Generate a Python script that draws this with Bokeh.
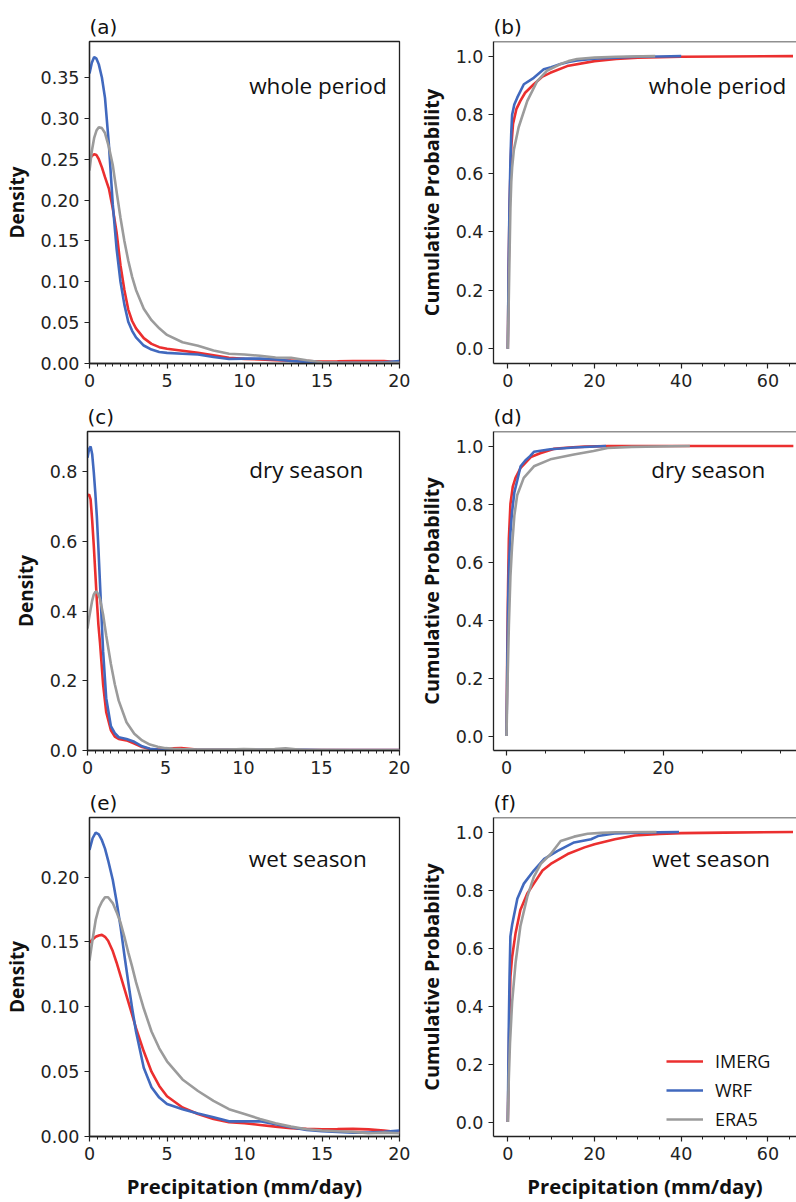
from bokeh.plotting import figure
from bokeh.layouts import column, row
from bokeh.models import (Range1d, FixedTicker, PrintfTickFormatter, Label, Legend,
                          LegendItem, Span)
from bokeh.embed import file_html
from bokeh.resources import INLINE

# ---------------- data ----------------
series_names = ["IMERG", "WRF", "ERA5"]
colors = ["#eb2f2f", "#4169be", "#9b9b9b"]

# (a) whole period KDE
kde_whole_x = [0, 0.15, 0.3, 0.45, 0.6, 0.8, 1.0, 1.25, 1.5, 1.75, 2.0, 2.25, 2.5, 2.75, 3.0,
               3.5, 4, 4.5, 5, 6, 7, 8, 9, 10, 11, 12, 13, 14, 15, 16, 17, 18, 19, 20]
kde_whole_imerg = [0.25, 0.254, 0.256, 0.255, 0.25, 0.24, 0.228, 0.214, 0.19, 0.16, 0.12, 0.09,
                   0.066, 0.052, 0.043, 0.031, 0.024, 0.02, 0.018, 0.0155, 0.013, 0.010, 0.007,
                   0.0057, 0.005, 0.004, 0.0035, 0.003, 0.0025, 0.0027, 0.003, 0.003, 0.003, 0.0016]
kde_whole_wrf = [0.355, 0.368, 0.375, 0.373, 0.366, 0.35, 0.325, 0.268, 0.195, 0.14, 0.1, 0.072,
                 0.051, 0.04, 0.032, 0.022, 0.017, 0.014, 0.013, 0.012, 0.011, 0.008, 0.0055,
                 0.006, 0.006, 0.005, 0.003, 0.002, 0.0012, 0.001, 0.001, 0.001, 0.0015, 0.003]
kde_whole_era5 = [0.236, 0.26, 0.276, 0.285, 0.289, 0.288, 0.282, 0.265, 0.243, 0.21, 0.178, 0.15,
                  0.126, 0.106, 0.09, 0.067, 0.053, 0.043, 0.035, 0.026, 0.0216, 0.016, 0.012,
                  0.011, 0.0094, 0.0073, 0.007, 0.004, 0.0016, 0.0012, 0.001, 0.001, 0.001, 0.001]

# (c) dry season KDE
kde_dry_x = [0, 0.1, 0.2, 0.3, 0.4, 0.5, 0.6, 0.7, 0.8, 1.0, 1.2, 1.5, 1.75, 2.0, 2.5, 3.0, 3.5,
             4, 4.5, 5, 5.5, 6, 6.5, 7, 8, 9, 10, 11, 12, 12.7, 13.5, 14, 15, 17, 20]
kde_dry_imerg = [0.73, 0.735, 0.72, 0.66, 0.59, 0.51, 0.43, 0.36, 0.31, 0.19, 0.11, 0.058, 0.04,
                 0.033, 0.029, 0.02, 0.01, 0.004, 0.003, 0.003, 0.006, 0.007, 0.005, 0.003, 0.002,
                 0.002, 0.001, 0.001, 0.001, 0.001, 0.001, 0.001, 0.001, 0.001, 0.001]
kde_dry_wrf = [0.84, 0.865, 0.872, 0.85, 0.80, 0.74, 0.67, 0.58, 0.48, 0.285, 0.15, 0.07, 0.05,
               0.038, 0.033, 0.025, 0.012, 0.005, 0.003, 0.002, 0.002, 0.002, 0.002, 0.002,
               0.002, 0.002, 0.002, 0.002, 0.002, 0.002, 0.002, 0.002, 0.001, 0.001, 0.001]
kde_dry_era5 = [0.35, 0.38, 0.405, 0.43, 0.447, 0.455, 0.455, 0.447, 0.435, 0.39, 0.33, 0.248,
                0.19, 0.143, 0.081, 0.048, 0.029, 0.017, 0.011, 0.0067, 0.005, 0.004, 0.0035,
                0.003, 0.003, 0.003, 0.004, 0.003, 0.004, 0.006, 0.003, 0.001, 0.001, 0.0005, 0.0005]

# (e) wet season KDE
kde_wet_x = [0, 0.2, 0.4, 0.6, 0.8, 1.0, 1.2, 1.5, 1.75, 2.0, 2.25, 2.5, 2.75, 3.0, 3.5, 4, 4.5,
             5, 6, 7, 8, 9, 10, 11, 12, 13, 14, 15, 16, 17, 18, 19, 20]
kde_wet_imerg = [0.1496, 0.152, 0.154, 0.155, 0.1555, 0.154, 0.151, 0.143, 0.134, 0.124, 0.114,
                 0.104, 0.094, 0.0835, 0.0657, 0.050, 0.039, 0.031, 0.0224, 0.0173, 0.0135, 0.011,
                 0.0102, 0.0089, 0.0076, 0.0064, 0.0059, 0.0056, 0.0057, 0.0059, 0.0055, 0.0046, 0.0033]
kde_wet_wrf = [0.221, 0.230, 0.2344, 0.233, 0.2285, 0.222, 0.213, 0.198, 0.181, 0.162, 0.14,
               0.119, 0.099, 0.081, 0.053, 0.038, 0.030, 0.025, 0.021, 0.0178, 0.0148, 0.0117,
               0.0117, 0.0117, 0.0095, 0.0071, 0.0051, 0.004, 0.0035, 0.003, 0.003, 0.0036, 0.0046]
kde_wet_era5 = [0.1356, 0.152, 0.167, 0.176, 0.181, 0.1845, 0.1845, 0.180, 0.173, 0.165, 0.154,
                0.142, 0.131, 0.119, 0.0987, 0.081, 0.068, 0.058, 0.044, 0.0351, 0.0275, 0.0211,
                0.0173, 0.0135, 0.0102, 0.0076, 0.0056, 0.0046, 0.004, 0.0036, 0.0025, 0.003, 0.0025]

# (b) whole period CDF
cdf_whole_imerg_x = [0, 0.2, 0.4, 0.6, 0.8, 1.2, 2.0, 2.9, 4, 6, 8, 9.8, 13.7, 20, 25, 30, 40, 50, 65.8]
cdf_whole_imerg_y = [0, 0.28, 0.48, 0.6, 0.69, 0.768, 0.82, 0.847, 0.875, 0.904, 0.93, 0.943,
                     0.966, 0.983, 0.99, 0.995, 0.998, 0.999, 1.0]
cdf_whole_wrf_x = [0, 0.2, 0.4, 0.6, 0.8, 1.0, 1.5, 2.2, 3.7, 6, 8.3, 10, 12, 14, 16, 20, 25, 30, 35, 40]
cdf_whole_wrf_y = [0, 0.3, 0.5, 0.64, 0.74, 0.80, 0.835, 0.859, 0.904, 0.926, 0.955, 0.962,
                   0.972, 0.98, 0.985, 0.991, 0.995, 0.998, 0.999, 1.0]
cdf_whole_era5_x = [0, 0.2, 0.4, 0.6, 0.8, 1.0, 1.4, 2.5, 4.5, 6.8, 9, 12, 14, 16, 20, 25, 34]
cdf_whole_era5_y = [0, 0.15, 0.32, 0.48, 0.57, 0.62, 0.68, 0.757, 0.847, 0.915, 0.95, 0.972,
                    0.983, 0.99, 0.995, 0.998, 1.0]

# (d) dry season CDF
cdf_dry_imerg_x = [0, 0.1, 0.2, 0.3, 0.5, 0.8, 1.15, 1.8, 3.1, 4.3, 6, 8, 10, 13, 20, 36.6]
cdf_dry_imerg_y = [0, 0.3, 0.52, 0.68, 0.8, 0.86, 0.89, 0.925, 0.962, 0.975, 0.99, 0.995, 0.998,
                   1.0, 1.0, 1.0]
cdf_dry_wrf_x = [0, 0.1, 0.2, 0.3, 0.5, 0.7, 1.0, 1.36, 1.8, 2.4, 3.0, 3.5, 5.6, 8.6, 12.7]
cdf_dry_wrf_y = [0, 0.25, 0.45, 0.58, 0.70, 0.77, 0.84, 0.88, 0.93, 0.95, 0.965, 0.98, 0.989,
                 0.995, 1.0]
cdf_dry_era5_x = [0, 0.1, 0.3, 0.5, 0.7, 1.0, 1.36, 2.2, 3.5, 5.6, 8.6, 11.1, 12.9, 16, 23.4]
cdf_dry_era5_y = [0, 0.15, 0.38, 0.55, 0.65, 0.76, 0.83, 0.89, 0.93, 0.954, 0.971, 0.983, 0.993,
                  0.997, 1.0]

# (f) wet season CDF
cdf_wet_imerg_x = [0, 0.2, 0.4, 0.6, 1.0, 1.8, 2.9, 4.5, 6, 8, 9.9, 13.8, 17.7, 20, 24.7, 29.3,
                   35, 40, 50, 65.8]
cdf_wet_imerg_y = [0, 0.2, 0.38, 0.5, 0.57, 0.652, 0.731, 0.788, 0.822, 0.867, 0.89, 0.924,
                   0.947, 0.958, 0.975, 0.988, 0.993, 0.996, 0.998, 1.0]
cdf_wet_wrf_x = [0, 0.2, 0.4, 0.6, 1.0, 1.4, 2.2, 3.7, 6, 8.4, 11.5, 15.3, 19.2, 20.8, 24.6, 30, 39.5]
cdf_wet_wrf_y = [0, 0.3, 0.5, 0.64, 0.68, 0.71, 0.77, 0.822, 0.867, 0.907, 0.935, 0.964, 0.975,
                 0.986, 0.995, 0.998, 1.0]
cdf_wet_era5_x = [0, 0.23, 0.5, 1.0, 1.8, 2.9, 4.5, 6, 7.6, 9.9, 12.2, 15.3, 18.4, 21.5, 25, 34.3]
cdf_wet_era5_y = [0, 0.15, 0.27, 0.414, 0.55, 0.675, 0.777, 0.845, 0.89, 0.924, 0.969, 0.984,
                  0.994, 0.997, 0.999, 1.0]

panel_letters = ["(a)", "(b)", "(c)", "(d)", "(e)", "(f)"]
period_names = ["whole period", "dry season", "wet season"]
kde_ticks_x = [0, 5, 10, 15, 20]
kde_minor_x = [i * 0.5 for i in range(41) if i % 10 != 0]
cdf_ticks_x = [0, 20, 40, 60]
cdf_minor_x = [5, 10, 15, 25, 30, 35, 45, 50, 55, 65]
cdf_ticks_y = [0.0, 0.2, 0.4, 0.6, 0.8, 1.0]

TICK_FONT = "DejaVu Sans"
TEXT_FONT = "Open Sans"
AXIS_COLOR = "#222222"


def style(p, xticks, xminor, yticks, yfmt, show_outline=True):
    p.xaxis.ticker = FixedTicker(ticks=xticks, minor_ticks=xminor)
    p.yaxis.ticker = FixedTicker(ticks=yticks)
    p.yaxis.formatter = PrintfTickFormatter(format=yfmt)
    p.xgrid.visible = False
    p.ygrid.visible = False
    for ax in (p.xaxis[0], p.yaxis[0]):
        ax.axis_line_color = AXIS_COLOR
        ax.axis_line_width = 1.3
        ax.major_tick_line_color = AXIS_COLOR
        ax.major_tick_line_width = 1.2
        ax.major_tick_in = 0
        ax.major_tick_out = 5
        ax.minor_tick_in = 0
        ax.minor_tick_out = 3
        ax.minor_tick_line_color = AXIS_COLOR
        ax.major_label_text_font = TICK_FONT
        ax.major_label_text_font_size = "17.5px"
        ax.major_label_text_color = AXIS_COLOR
        ax.major_label_standoff = 5
        ax.axis_label_text_font = TEXT_FONT
        ax.axis_label_text_font_style = "bold"
        ax.axis_label_text_font_size = "19px"
        ax.axis_label_text_color = "#111111"
        ax.axis_label_standoff = 8
    p.yaxis.minor_tick_line_color = None
    if show_outline:
        p.outline_line_color = AXIS_COLOR
        p.outline_line_width = 1.3
    else:
        p.outline_line_color = None
        p.add_layout(Span(location=p.y_range.end, dimension="width",
                          line_color=AXIS_COLOR, line_width=1.3))
    p.title.text_font = TICK_FONT
    p.title.text_font_size = "20px"
    p.title.text_font_style = "normal"
    p.title.text_color = "#111111"
    p.title.align = "left"
    p.title.standoff = 5
    p.background_fill_color = "white"
    p.border_fill_color = "white"


def make_fig(title, w, h, bl, br, bt, bb, xr, yr):
    p = figure(width=w, height=h, x_range=Range1d(*xr), y_range=Range1d(*yr),
               output_backend="svg", toolbar_location=None, title=title,
               min_border_left=bl, min_border_right=br, min_border_top=bt, min_border_bottom=bb)
    return p


LW = 2.6
row_specs = [
    # height, border top, border bottom
    (399, 41, 36),
    (387, 32, 36),
    (416, 31, 63),
]
kde_sets = [
    (kde_whole_x, [kde_whole_imerg, kde_whole_wrf, kde_whole_era5], (0, 0.394), [0, 0.05, 0.1, 0.15, 0.2, 0.25, 0.3, 0.35], "%.2f", 10.3, 0.340),
    (kde_dry_x, [kde_dry_imerg, kde_dry_wrf, kde_dry_era5], (0, 0.915), [0, 0.2, 0.4, 0.6, 0.8], "%.1f", 10.37, 0.807),
    (kde_wet_x, [kde_wet_imerg, kde_wet_wrf, kde_wet_era5], (0, 0.246), [0, 0.05, 0.1, 0.15, 0.2], "%.2f", 10.28, 0.2145),
]
cdf_sets = [
    ([(cdf_whole_imerg_x, cdf_whole_imerg_y), (cdf_whole_wrf_x, cdf_whole_wrf_y), (cdf_whole_era5_x, cdf_whole_era5_y)],
     (-3.3, 66.6), cdf_ticks_x, cdf_minor_x, 32.5, 0.898),
    ([(cdf_dry_imerg_x, cdf_dry_imerg_y), (cdf_dry_wrf_x, cdf_dry_wrf_y), (cdf_dry_era5_x, cdf_dry_era5_y)],
     (-1.66, 37.0), [0, 20], [5, 10, 15, 25, 30, 35], 18.47, 0.92),
    ([(cdf_wet_imerg_x, cdf_wet_imerg_y), (cdf_wet_wrf_x, cdf_wet_wrf_y), (cdf_wet_era5_x, cdf_wet_era5_y)],
     (-3.3, 66.6), cdf_ticks_x, cdf_minor_x, 33.3, 0.907),
]

rows = []
for i in range(3):
    h, bt, bb = row_specs[i]
    kx, kys, kyr, kyt, kfmt, lx, ly = kde_sets[i]
    pl = make_fig(panel_letters[2 * i], 410, h, 87, 11, bt, bb, (0, 20), kyr)
    for ys, c in zip(kys, colors):
        pl.line(kx, ys, line_color=c, line_width=LW)
    style(pl, kde_ticks_x, kde_minor_x, kyt, kfmt)
    pl.yaxis.axis_label = "Density"
    pl.add_layout(Label(x=lx, y=ly, text=period_names[i], text_font=TEXT_FONT,
                        text_font_size="22.5px", text_baseline="middle", text_color="#111111"))

    cxy, cxr, cxt, cxm, clx, cly = cdf_sets[i]
    pr = make_fig(panel_letters[2 * i + 1], 386, h, 83, 0, bt, bb, cxr, (-0.05, 1.05))
    rends = []
    for (xs, ys), c in zip(cxy, colors):
        rends.append(pr.line(xs, ys, line_color=c, line_width=LW))
    style(pr, cxt, cxm, cdf_ticks_y, "%.1f", show_outline=False)
    pr.yaxis.axis_label = "Cumulative Probability"
    pr.yaxis.axis_label_text_font_size = "19.8px"
    pr.add_layout(Label(x=clx, y=cly, text=period_names[i], text_font=TEXT_FONT,
                        text_font_size="22.5px", text_baseline="middle", text_color="#111111"))
    if i == 2:
        pl.xaxis.axis_label = "Precipitation (mm/day)"
        pr.xaxis.axis_label = "Precipitation (mm/day)"
        for p in (pl, pr):
            p.xaxis.axis_label_text_font_size = "20.3px"
            p.xaxis.axis_label_standoff = 9
        leg = Legend(items=[LegendItem(label=n, renderers=[r]) for n, r in zip(series_names, rends)],
                     location=(173, 5), border_line_color=None, background_fill_alpha=0,
                     glyph_width=37, glyph_height=20, label_height=20, label_standoff=12,
                     label_text_font=TEXT_FONT, label_text_font_size="18px",
                     label_text_color="#111111", padding=10, spacing=5)
        pr.add_layout(leg)
    rows.append(row(pl, pr, spacing=0))

layout = column(*rows, spacing=0)
open("out.html", "w").write(file_html(layout, INLINE))
